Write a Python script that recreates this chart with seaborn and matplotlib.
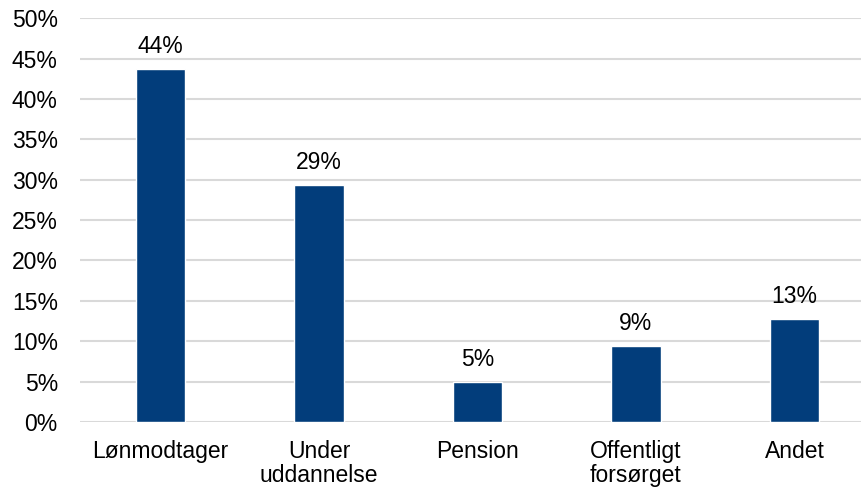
import matplotlib
matplotlib.use('Agg')
import matplotlib.pyplot as plt
import seaborn as sns
import pandas as pd
from matplotlib.ticker import FuncFormatter

categories = ['Lønmodtager', 'Under\nuddannelse', 'Pension', 'Offentligt\nforsørget', 'Andet']
shares = [43.7, 29.3, 4.9, 9.4, 12.8]

sns.set_style('white')
plt.rcParams['font.family'] = ['Liberation Sans', 'DejaVu Sans']
plt.rcParams['text.color'] = 'black'

df = pd.DataFrame({'category': categories, 'share': shares})

fig = plt.figure(figsize=(8.61, 4.91), dpi=100)
ax = fig.add_axes([0.093, 0.1405, 0.907, 0.8225])

sns.barplot(data=df, x='category', y='share', color='#023d7b', saturation=1,
            width=0.3125, ax=ax, zorder=3)

ax.set_ylim(0, 50)
ax.set_xlim(-0.508, 4.42)
ax.set_yticks(range(0, 51, 5))
ax.yaxis.set_major_formatter(FuncFormatter(lambda v, p: '{:.0f}%'.format(v)))
ax.grid(axis='y', color='#d9d9d9', linewidth=1.5, zorder=0)
ax.grid(axis='x', visible=False)
for s in ax.spines.values():
    s.set_visible(False)
ax.tick_params(axis='both', length=0, labelsize=16.5, colors='black')
ax.tick_params(axis='y', pad=16)
ax.tick_params(axis='x', pad=13)
for t in ax.get_xticklabels():
    t.set_linespacing(1.05)
ax.set_xlabel('')
ax.set_ylabel('')

# value labels above the bars
ax.bar_label(ax.containers[0], labels=['{:.0f}%'.format(v) for v in shares],
             padding=8, fontsize=16.5, color='black')

fig.savefig('out.png', dpi=100)
